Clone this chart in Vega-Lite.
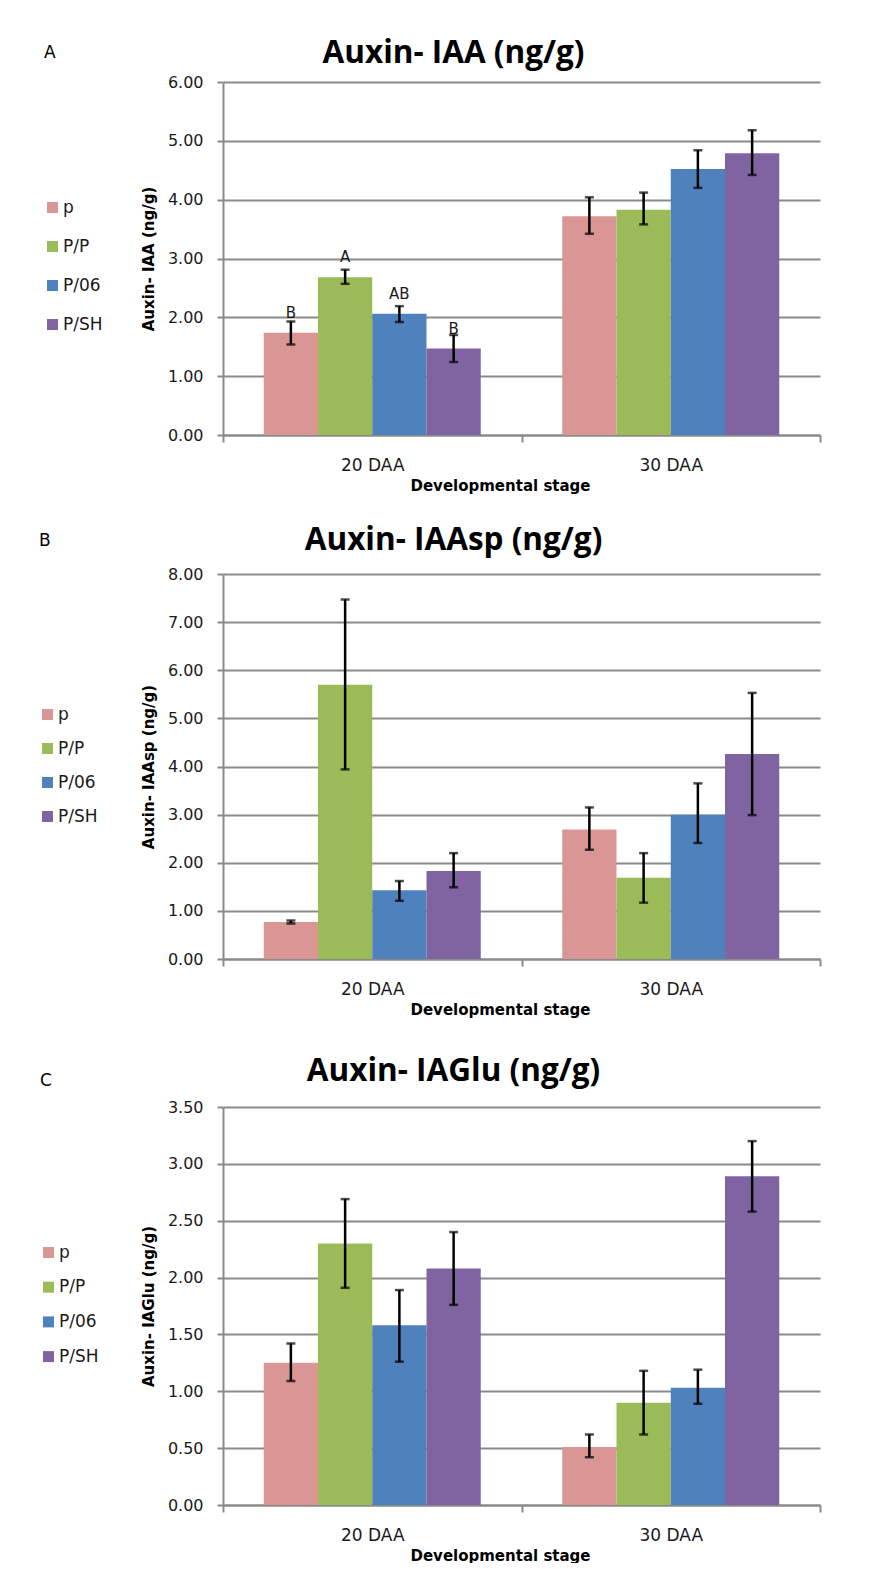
{
  "$schema": "https://vega.github.io/schema/vega-lite/v6.json",
  "padding": {"left": 39, "top": 37, "right": 10, "bottom": 0},
  "background": "white",
  "config": {
    "view": {"stroke": null},
    "font": "DejaVu Sans",
    "axis": {
      "labelFont": "DejaVu Sans",
      "labelColor": "#1a1a1a",
      "titleFont": "DejaVu Sans",
      "titleFontWeight": "bold",
      "titleColor": "#000000",
      "domainColor": "#8a8a8a",
      "domainWidth": 2,
      "tickColor": "#8a8a8a",
      "tickWidth": 2,
      "gridColor": "#8a8a8a",
      "gridWidth": 2
    },
    "axisX": {"labelAngle": 0, "tickBand": "extent", "tickSize": 7, "labelFontSize": 17, "labelPadding": 15, "titleFontSize": 15, "titlePadding": 5, "grid": false, "titleX": 277},
    "axisY": {"tickSize": 6, "labelFontSize": 16, "labelPadding": 14, "titleFontSize": 15, "titlePadding": 11, "format": ".2f", "grid": true},
    "title": {"font": "Open Sans", "fontSize": 31.5, "fontWeight": "bold", "color": "#000000", "frame": "group", "anchor": "middle", "dx": -68},
    "legend": {
      "orient": "none", "padding": 0, "symbolType": "square", "symbolSize": 121, "symbolStrokeWidth": 0,
      "labelFont": "DejaVu Sans", "labelFontSize": 17, "labelColor": "#1a1a1a", "labelOffset": 2,
      "titleFont": "DejaVu Sans", "titleFontSize": 17, "titleFontWeight": "normal", "titleColor": "#000000"
    }
  },
  "datasets": {
    "a": [
      {"stage": "20 DAA", "group": "p", "value": 1.74, "lo": 1.54, "hi": 1.93, "sig": "B"},
      {"stage": "20 DAA", "group": "P/P", "value": 2.68, "lo": 2.57, "hi": 2.81, "sig": "A"},
      {"stage": "20 DAA", "group": "P/06", "value": 2.06, "lo": 1.92, "hi": 2.19, "sig": "AB"},
      {"stage": "20 DAA", "group": "P/SH", "value": 1.47, "lo": 1.24, "hi": 1.70, "sig": "B"},
      {"stage": "30 DAA", "group": "p", "value": 3.72, "lo": 3.42, "hi": 4.04, "sig": ""},
      {"stage": "30 DAA", "group": "P/P", "value": 3.83, "lo": 3.58, "hi": 4.12, "sig": ""},
      {"stage": "30 DAA", "group": "P/06", "value": 4.52, "lo": 4.20, "hi": 4.84, "sig": ""},
      {"stage": "30 DAA", "group": "P/SH", "value": 4.79, "lo": 4.42, "hi": 5.18, "sig": ""}
    ],
    "b": [
      {"stage": "20 DAA", "group": "p", "value": 0.77, "lo": 0.74, "hi": 0.80},
      {"stage": "20 DAA", "group": "P/P", "value": 5.70, "lo": 3.94, "hi": 7.47},
      {"stage": "20 DAA", "group": "P/06", "value": 1.43, "lo": 1.21, "hi": 1.62},
      {"stage": "20 DAA", "group": "P/SH", "value": 1.83, "lo": 1.49, "hi": 2.20},
      {"stage": "30 DAA", "group": "p", "value": 2.69, "lo": 2.27, "hi": 3.15},
      {"stage": "30 DAA", "group": "P/P", "value": 1.69, "lo": 1.17, "hi": 2.20},
      {"stage": "30 DAA", "group": "P/06", "value": 3.00, "lo": 2.41, "hi": 3.65},
      {"stage": "30 DAA", "group": "P/SH", "value": 4.26, "lo": 2.99, "hi": 5.53}
    ],
    "c": [
      {"stage": "20 DAA", "group": "p", "value": 1.25, "lo": 1.09, "hi": 1.42},
      {"stage": "20 DAA", "group": "P/P", "value": 2.30, "lo": 1.91, "hi": 2.69},
      {"stage": "20 DAA", "group": "P/06", "value": 1.58, "lo": 1.26, "hi": 1.89},
      {"stage": "20 DAA", "group": "P/SH", "value": 2.08, "lo": 1.76, "hi": 2.40},
      {"stage": "30 DAA", "group": "p", "value": 0.51, "lo": 0.42, "hi": 0.62},
      {"stage": "30 DAA", "group": "P/P", "value": 0.90, "lo": 0.62, "hi": 1.18},
      {"stage": "30 DAA", "group": "P/06", "value": 1.03, "lo": 0.89, "hi": 1.19},
      {"stage": "30 DAA", "group": "P/SH", "value": 2.89, "lo": 2.58, "hi": 3.20}
    ]
  },
  "bounds": "flush",
  "spacing": 139,
  "resolve": {"scale": {"color": "independent", "y": "independent", "x": "independent"}, "legend": {"color": "independent"}},
  "vconcat": [
    {
      "width": 597, "height": 353,
      "data": {"name": "a"},
      "title": {"text": "Auxin- IAA (ng/g)", "offset": -24},
      "encoding": {
        "x": {"field": "stage", "type": "nominal", "title": "Developmental stage", "scale": {"paddingInner": 0, "paddingOuter": 0}},
        "xOffset": {"field": "group", "type": "nominal", "sort": ["p", "P/P", "P/06", "P/SH"], "scale": {"paddingInner": 0, "paddingOuter": 0.751}}
      },
      "layer": [
        {
          "mark": {"type": "bar"},
          "encoding": {
            "y": {"field": "value", "type": "quantitative", "title": "Auxin- IAA (ng/g)", "scale": {"domain": [0, 6], "nice": false}, "axis": {"values": [0, 1, 2, 3, 4, 5, 6]}},
            "color": {"field": "group", "type": "nominal", "scale": {"domain": ["p", "P/P", "P/06", "P/SH"], "range": ["#D99694", "#9BBB59", "#4F81BD", "#8064A2"]},
              "legend": {"title": "A", "legendX": -179, "legendY": -37, "titlePadding": 137, "rowPadding": 21}}
          }
        },
        {"mark": {"type": "rule", "color": "#000000", "strokeWidth": 2.5}, "encoding": {"y": {"field": "lo", "type": "quantitative"}, "y2": {"field": "hi"}}},
        {"mark": {"type": "tick", "orient": "horizontal", "size": 9, "thickness": 2.5, "color": "#000000"}, "encoding": {"y": {"field": "lo", "type": "quantitative"}}},
        {"mark": {"type": "tick", "orient": "horizontal", "size": 9, "thickness": 2.5, "color": "#000000"}, "encoding": {"y": {"field": "hi", "type": "quantitative"}}},
        {"mark": {"type": "text", "baseline": "alphabetic", "dy": -15, "font": "DejaVu Sans", "fontSize": 15, "color": "#1a1a1a"}, "encoding": {"y": {"field": "value", "type": "quantitative"}, "text": {"field": "sig"}}}
      ]
    },
    {
      "bounds": "flush",
      "spacing": 148,
      "resolve": {"scale": {"color": "independent", "y": "independent", "x": "independent"}, "legend": {"color": "independent"}},
      "vconcat": [
        {
          "width": 597, "height": 385,
          "data": {"name": "b"},
          "title": {"text": "Auxin- IAAsp (ng/g)", "offset": -23.3},
          "encoding": {
            "x": {"field": "stage", "type": "nominal", "title": "Developmental stage", "scale": {"paddingInner": 0, "paddingOuter": 0}},
            "xOffset": {"field": "group", "type": "nominal", "sort": ["p", "P/P", "P/06", "P/SH"], "scale": {"paddingInner": 0, "paddingOuter": 0.751}}
          },
          "layer": [
            {
              "mark": {"type": "bar"},
              "encoding": {
                "y": {"field": "value", "type": "quantitative", "title": "Auxin- IAAsp (ng/g)", "scale": {"domain": [0, 8], "nice": false}, "axis": {"values": [0, 1, 2, 3, 4, 5, 6, 7, 8]}},
                "color": {"field": "group", "type": "nominal", "scale": {"domain": ["p", "P/P", "P/06", "P/SH"], "range": ["#D99694", "#9BBB59", "#4F81BD", "#8064A2"]},
                  "legend": {"title": "B", "legendX": -184, "legendY": -41, "titlePadding": 156, "rowPadding": 16}}
              }
            },
            {"mark": {"type": "rule", "color": "#000000", "strokeWidth": 2.5}, "encoding": {"y": {"field": "lo", "type": "quantitative"}, "y2": {"field": "hi"}}},
            {"mark": {"type": "tick", "orient": "horizontal", "size": 9, "thickness": 2.5, "color": "#000000"}, "encoding": {"y": {"field": "lo", "type": "quantitative"}}},
            {"mark": {"type": "tick", "orient": "horizontal", "size": 9, "thickness": 2.5, "color": "#000000"}, "encoding": {"y": {"field": "hi", "type": "quantitative"}}}
          ]
        },
        {
          "width": 597, "height": 398,
          "data": {"name": "c"},
          "title": {"text": "Auxin- IAGlu (ng/g)", "offset": -14.3},
          "encoding": {
            "x": {"field": "stage", "type": "nominal", "title": "Developmental stage", "scale": {"paddingInner": 0, "paddingOuter": 0}},
            "xOffset": {"field": "group", "type": "nominal", "sort": ["p", "P/P", "P/06", "P/SH"], "scale": {"paddingInner": 0, "paddingOuter": 0.751}}
          },
          "layer": [
            {
              "mark": {"type": "bar"},
              "encoding": {
                "y": {"field": "value", "type": "quantitative", "title": "Auxin- IAGlu (ng/g)", "scale": {"domain": [0, 3.5], "nice": false}, "axis": {"values": [0, 0.5, 1, 1.5, 2, 2.5, 3, 3.5]}},
                "color": {"field": "group", "type": "nominal", "scale": {"domain": ["p", "P/P", "P/06", "P/SH"], "range": ["#D99694", "#9BBB59", "#4F81BD", "#8064A2"]},
                  "legend": {"title": "C", "legendX": -183, "legendY": -34, "titlePadding": 154, "rowPadding": 16.7}}
              }
            },
            {"mark": {"type": "rule", "color": "#000000", "strokeWidth": 2.5}, "encoding": {"y": {"field": "lo", "type": "quantitative"}, "y2": {"field": "hi"}}},
            {"mark": {"type": "tick", "orient": "horizontal", "size": 9, "thickness": 2.5, "color": "#000000"}, "encoding": {"y": {"field": "lo", "type": "quantitative"}}},
            {"mark": {"type": "tick", "orient": "horizontal", "size": 9, "thickness": 2.5, "color": "#000000"}, "encoding": {"y": {"field": "hi", "type": "quantitative"}}}
          ]
        }
      ]
    }
  ]
}
